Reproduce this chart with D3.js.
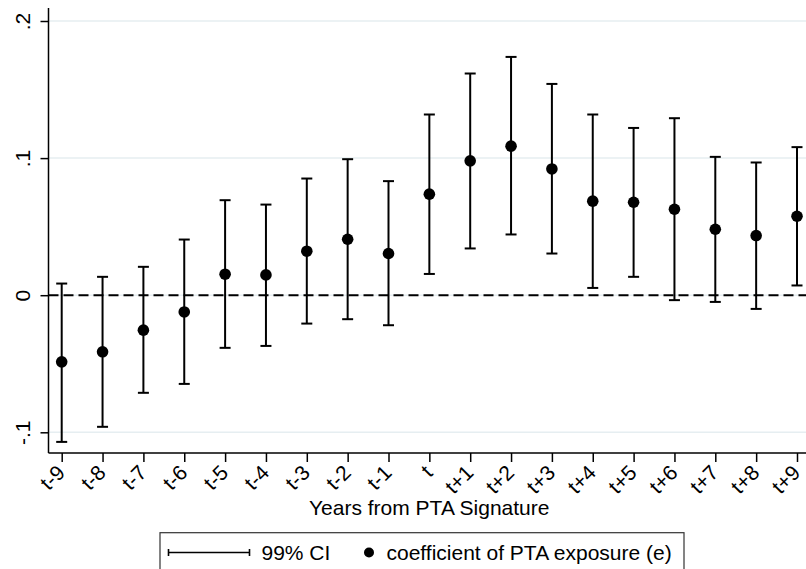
<!DOCTYPE html>
<html>
<head>
<meta charset="utf-8">
<script src="https://cdn.jsdelivr.net/npm/d3@7"></script>
<style>
  html, body { margin: 0; padding: 0; background: #fff; }
  svg { display: block; font-family: "Liberation Sans", Arial, sans-serif; }
</style>
</head>
<body>
<svg id="chart" width="806" height="569"></svg>
<script>
// ---- data ----
const periods = ["t-9","t-8","t-7","t-6","t-5","t-4","t-3","t-2","t-1","t","t+1","t+2","t+3","t+4","t+5","t+6","t+7","t+8","t+9"];
const offsets = [-9,-8,-7,-6,-5,-4,-3,-2,-1,0,1,2,3,4,5,6,7,8,9];
const coef  = [-0.0486,-0.0413,-0.0255,-0.0122,0.0153,0.0148,0.0321,0.0408,0.0304,0.0737,0.0980,0.1087,0.0921,0.0686,0.0678,0.0627,0.0481,0.0435,0.0576];
const lower = [-0.1070,-0.0960,-0.0712,-0.0647,-0.0384,-0.0370,-0.0207,-0.0175,-0.0219,0.0155,0.0341,0.0443,0.0304,0.0053,0.0134,-0.0036,-0.0049,-0.0100,0.0071];
const upper = [0.0085,0.0134,0.0207,0.0406,0.0693,0.0661,0.0851,0.0992,0.0832,0.1318,0.1617,0.1738,0.1541,0.1318,0.1220,0.1291,0.1009,0.0968,0.1080];
const yTicks = [-0.1, 0, 0.1, 0.2];
const yTickLabels = ["-.1", "0", ".1", ".2"];
const xTitle = "Years from PTA Signature";
const legendLabels = ["99% CI", "coefficient of PTA exposure (e)"];

const rows = periods.map((p, i) => ({ p, off: offsets[i], c: coef[i], lo: lower[i], hi: upper[i] }));

const svg = d3.select("#chart");
const plotLeft = 48.5, plotRight = 806, plotTop = 8, plotBottom = 453;

const x = d3.scaleLinear().domain([-9, 9]).range([61.7, 797]);
const y = d3.scaleLinear().domain([-0.1, 0.2]).range([432.3, 21]);

// gridlines
svg.append("g").selectAll("line").data(yTicks).join("line")
  .attr("x1", plotLeft).attr("x2", plotRight)
  .attr("y1", d => y(d)).attr("y2", d => y(d))
  .attr("stroke", "#e6eef1").attr("stroke-width", 1.5);

// zero dashed reference line
svg.append("line")
  .attr("x1", plotLeft).attr("x2", plotRight)
  .attr("y1", y(0)).attr("y2", y(0))
  .attr("stroke", "#000").attr("stroke-width", 1.9)
  .attr("stroke-dasharray", "10,5");

// y axis
const yAxis = d3.axisLeft(y).tickValues(yTicks).tickSize(8)
  .tickFormat((d, i) => yTickLabels[i]);
const gy = svg.append("g").attr("transform", `translate(${plotLeft},0)`).call(yAxis);
gy.select(".domain").attr("d", `M0,${plotTop}V${plotBottom}`).attr("stroke", "#000").attr("stroke-width", 1.5);
gy.selectAll(".tick line").attr("stroke", "#000").attr("stroke-width", 1.5);
gy.selectAll(".tick text")
  .attr("x", null).attr("dy", null)
  .attr("transform", "translate(-18.5,0) rotate(-90)")
  .attr("text-anchor", "middle")
  .attr("font-size", 21).attr("fill", "#000")
  .attr("font-family", "Liberation Sans, Arial, sans-serif");

// x axis
const xAxis = d3.axisBottom(x).tickValues(offsets).tickSize(9)
  .tickFormat((d, i) => periods[i]);
const gx = svg.append("g").attr("transform", `translate(0,${plotBottom})`).call(xAxis);
gx.select(".domain").attr("d", `M${plotLeft},0H${plotRight}`).attr("stroke", "#000").attr("stroke-width", 1.5);
gx.selectAll(".tick line").attr("stroke", "#000").attr("stroke-width", 1.5);
gx.selectAll(".tick text")
  .attr("y", null).attr("dy", null)
  .attr("transform", "translate(4,21) rotate(-45)")
  .attr("text-anchor", "end")
  .attr("font-size", 21).attr("fill", "#000")
  .attr("font-family", "Liberation Sans, Arial, sans-serif");

// x title
svg.append("text")
  .attr("x", (plotLeft + plotRight) / 2 + 2).attr("y", 515)
  .attr("text-anchor", "middle").attr("font-size", 21).attr("fill", "#000")
  .text(xTitle);

// error bars
const capW = 5.5;
const eb = svg.append("g").attr("stroke", "#000").attr("stroke-width", 2).attr("fill", "none");
eb.selectAll("line.v").data(rows).join("line").attr("class", "v")
  .attr("x1", d => x(d.off)).attr("x2", d => x(d.off))
  .attr("y1", d => y(d.lo)).attr("y2", d => y(d.hi));
eb.selectAll("line.t").data(rows).join("line").attr("class", "t")
  .attr("x1", d => x(d.off) - capW).attr("x2", d => x(d.off) + capW)
  .attr("y1", d => y(d.hi)).attr("y2", d => y(d.hi));
eb.selectAll("line.b").data(rows).join("line").attr("class", "b")
  .attr("x1", d => x(d.off) - capW).attr("x2", d => x(d.off) + capW)
  .attr("y1", d => y(d.lo)).attr("y2", d => y(d.lo));

// points
svg.append("g").selectAll("circle").data(rows).join("circle")
  .attr("cx", d => x(d.off)).attr("cy", d => y(d.c)).attr("r", 5.8)
  .attr("fill", "#000");

// legend
const lg = svg.append("g");
lg.append("rect").attr("x", 160).attr("y", 532.7).attr("width", 524).attr("height", 60)
  .attr("fill", "#fff").attr("stroke", "#333").attr("stroke-width", 1.2);
const ly = 552.5;
lg.append("line").attr("x1", 168.5).attr("x2", 249.5).attr("y1", ly).attr("y2", ly)
  .attr("stroke", "#000").attr("stroke-width", 1.6);
lg.append("line").attr("x1", 168.5).attr("x2", 168.5).attr("y1", ly - 3.5).attr("y2", ly + 3.5)
  .attr("stroke", "#000").attr("stroke-width", 1.6);
lg.append("line").attr("x1", 249.5).attr("x2", 249.5).attr("y1", ly - 3.5).attr("y2", ly + 3.5)
  .attr("stroke", "#000").attr("stroke-width", 1.6);
lg.append("text").attr("x", 261.5).attr("y", 559.5).attr("font-size", 21).attr("fill", "#000")
  .text(legendLabels[0]);
lg.append("circle").attr("cx", 369).attr("cy", ly).attr("r", 5).attr("fill", "#000");
lg.append("text").attr("x", 386.5).attr("y", 559.5).attr("font-size", 21).attr("fill", "#000")
  .text(legendLabels[1]);
</script>
</body>
</html>
